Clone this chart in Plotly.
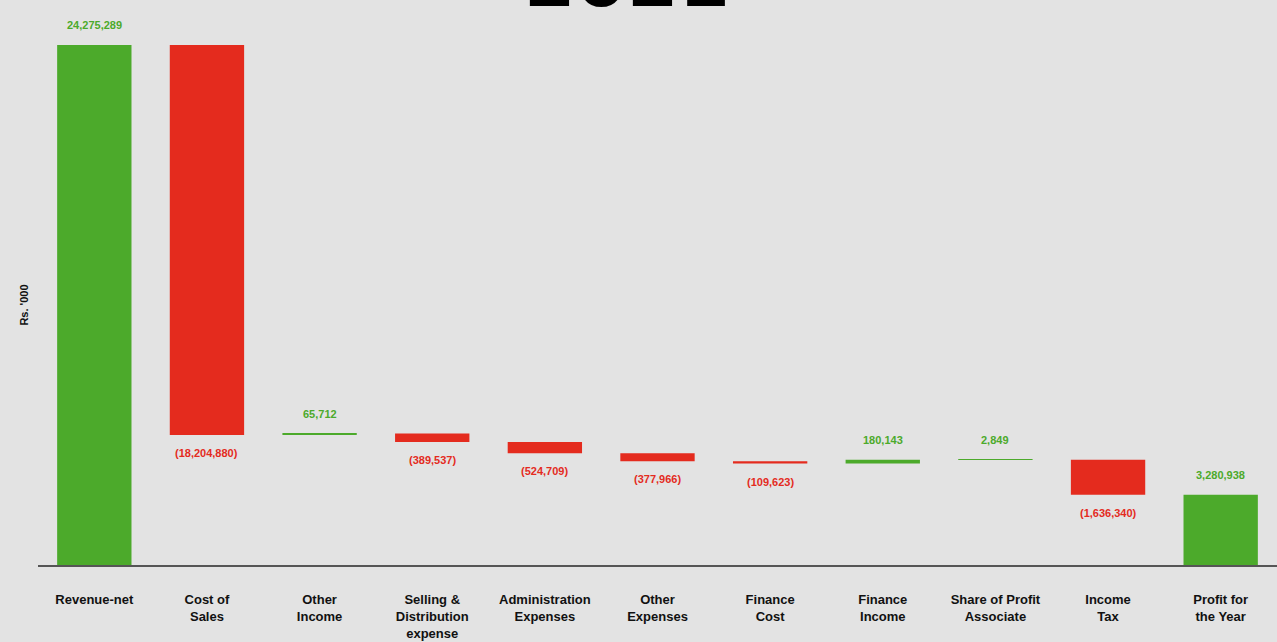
import plotly.graph_objects as go

categories = ["Revenue-net", "Cost of<br>Sales", "Other<br>Income", "Selling &<br>Distribution<br>expense",
              "Administration<br>Expenses", "Other<br>Expenses", "Finance<br>Cost", "Finance<br>Income",
              "Share of Profit<br>Associate", "Income<br>Tax", "Profit for<br>the Year"]
values = [24275289, -18204880, 65712, -389537, -524709, -377966, -109623, 180143, 2849, -1636340, 0]
measures = ["relative"] * 10 + ["total"]
labels = ["24,275,289", "(18,204,880)", "65,712", "(389,537)", "(524,709)", "(377,966)", "(109,623)",
          "180,143", "2,849", "(1,636,340)", "3,280,938"]

GREEN = "#4caa2b"
RED = "#e42b1e"

fig = go.Figure(go.Waterfall(
    x=categories, y=values, measure=measures,
    increasing=dict(marker=dict(color=GREEN)),
    decreasing=dict(marker=dict(color=RED)),
    totals=dict(marker=dict(color=GREEN)),
    connector=dict(visible=False),
))

# value labels placed at bar ends (computed from the data)
annotations = []
level = 0
for cat, v, m, lab in zip(categories, values, measures, labels):
    if m == "total":
        end, up = level, True
    else:
        level += v
        end, up = level, v > 0
    annotations.append(dict(x=cat, y=end, xref="x", yref="y", text="<b>" + lab + "</b>",
                            showarrow=False, yanchor="bottom" if up else "top",
                            yshift=12 if up else -10,
                            font=dict(size=11, color=GREEN if up else RED, family="Liberation Sans")))

annotations.append(dict(text="<b>2021</b>", x=0.475, xref="paper", y=1, yref="paper",
                        xanchor="center", yanchor="bottom", yshift=20, showarrow=False,
                        font=dict(size=74, family="DejaVu Sans", color="#000000")))

fig.update_layout(
    width=1277, height=642,
    paper_bgcolor="#e3e3e3", plot_bgcolor="#e3e3e3",
    margin=dict(l=38, r=0, t=45, b=77),
    waterfallgap=0.34,
    showlegend=False,
    font=dict(family="Liberation Sans", color="#111111"),
    xaxis=dict(showline=True, linecolor="#555555", linewidth=1.5, showgrid=False,
               tickfont=dict(size=13, family="Liberation Sans", color="#111111"),
               ticks="", ticklabelstandoff=22),
    yaxis=dict(range=[0, 24275289], showticklabels=False, showgrid=False, zeroline=False,
               title=dict(text="<b>Rs. '000</b>", font=dict(size=11), standoff=6)),
    annotations=annotations,
)
fig.update_xaxes(tickvals=categories, ticktext=["<b>" + c + "</b>" for c in categories])

fig.write_html("out.html", config={"displayModeBar": False},
               post_script="document.body.style.margin='0';document.body.style.overflow='hidden';")
